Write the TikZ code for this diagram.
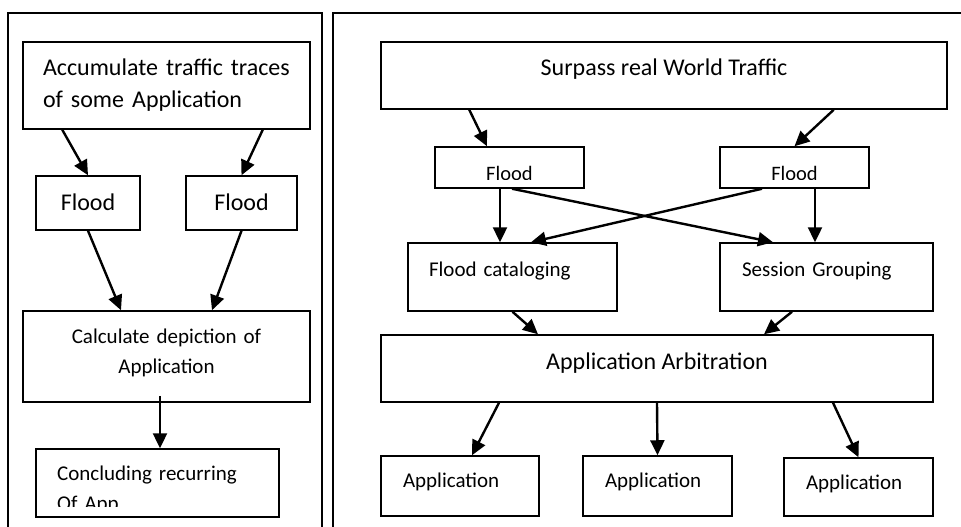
\documentclass[tikz,border=0pt]{standalone}
\usepackage{fontspec}
\setmainfont{Carlito}
\usetikzlibrary{arrows.meta}

\begin{document}
\begin{tikzpicture}[x=1pt,y=-1pt,>={Triangle[length=15pt,width=14pt]},
    blk/.style={draw,rectangle,line width=1.5pt,inner ysep=0pt,text height=16pt},
    big/.style={font=\fontsize{24}{32}\selectfont},
    small/.style={font=\fontsize{21}{30}\selectfont},
    tiny/.style={font=\fontsize{20.5}{25}\selectfont},
    arr/.style={->,line width=2.4pt}]
        % the page, the frames run on below it
        \clip (0,0) rectangle (961,527);
        \fill[white] (0,0) rectangle (961,527);

        % draw the two frames
        \draw[line width=1.5pt] (8,13) rectangle (322,540);
        \draw[line width=1.5pt] (333,13) rectangle (965,540);

        % boxes of the left frame
        \node[blk,big,minimum width=287pt,minimum height=87pt,inner xsep=20pt,
              text width=247pt,align=left,text depth=35pt] (acc) at (166.5,85.5)
              {Accumulate traffic traces\\of some Application};
        \node[blk,big,minimum width=104pt,minimum height=54pt,text depth=2pt] (floodA) at (88,203) {Flood};
        \node[blk,big,minimum width=111pt,minimum height=54pt,text depth=2pt] (floodB) at (241.5,203) {Flood};
        \node[blk,small,minimum width=287pt,minimum height=91pt,inner xsep=20pt,
              text width=247pt,align=center,text depth=43pt] (calc) at (166.5,356.5)
              {Calculate depiction of\\Application};

        % the last box, its second line is cut off
        \node[blk,minimum width=243pt,minimum height=68pt] (concl) at (157.5,483) {};
        \begin{scope}
            \clip (concl.north west) rectangle ([yshift=11pt]concl.south east);
            \node[small,inner sep=0pt,anchor=base west,text width=200pt,align=left]
                (conclText) at (57,480) {Concluding recurring\\Of App};
        \end{scope}

        % boxes of the right frame
        \node[blk,big,minimum width=566pt,minimum height=67pt,text depth=15pt] (surpass) at (664,75.5)
              {Surpass real World Traffic};

        \foreach \n/\x in {floodC/509.5, floodD/794.5} {
                % box first, then the cut off text
                \node[blk,minimum width=149pt,minimum height=41pt] (\n) at (\x,167.5) {};
                \begin{scope}
                    \clip (\n.north west) rectangle ([yshift=9.5pt]\n.south east);
                    \node[tiny,anchor=base] (\n Text) at (\x,180) {Flood};
                \end{scope}
        }

        \node[blk,small,minimum width=209pt,minimum height=68pt,inner xsep=21pt,
              text width=167pt,align=left,text depth=18pt] (catalog) at (512.5,277) {Flood cataloging};
        \node[blk,small,minimum width=213pt,minimum height=68pt,inner xsep=22pt,
              text width=169pt,align=left,text depth=18pt] (session) at (826.5,277) {Session Grouping};
        \node[blk,big,minimum width=552pt,minimum height=67pt,text depth=15pt] (arbit) at (657,368.5)
              {Application Arbitration};

        \foreach \n/\x/\y/\w/\h/\d in {
            app1/460/486/158/60/14,
            app2/657.5/486/149/60/14,
            app3/858.5/487/149/58/12}
                \node[blk,small,minimum width=\w pt,minimum height=\h pt,inner xsep=22pt,
                      text width=\w-44,align=left,text depth=\d pt] (\n) at (\x,\y) {Application};

        % connectors of the left frame
        \draw[arr] ([xshift=40pt]acc.south west) -- (floodA.north);
        \draw[arr] ([xshift=-48pt]acc.south east) -- (floodB.north);
        \draw[arr] (floodA.south) -- ([xshift=-45.5pt]calc.north);
        \draw[arr] (floodB.south) -- ([xshift=45.5pt]calc.north);
        \draw[arr] ([xshift=-6.5pt,yshift=7pt]calc.south) -- ([xshift=2.5pt]concl.north);

        % connectors of the right frame
        \draw[arr] ([xshift=89pt]surpass.south west) -- ([xshift=-22.5pt]floodC.north);
        \draw[arr] ([xshift=-114pt]surpass.south east) -- (floodD.north);
        \draw[arr] ([xshift=-9.5pt]floodC.south) -- ([xshift=-12.5pt]catalog.north);
        \draw[arr] ([xshift=2.5pt]floodC.south) -- ([xshift=-53.5pt]session.north);
        \draw[arr] ([xshift=-32.5pt]floodD.south) -- ([xshift=18.5pt]catalog.north);
        \draw[arr] ([xshift=20.5pt]floodD.south) -- ([xshift=-11.5pt]session.north);
        \draw[arr] (catalog.south) -- ([xshift=-119pt]arbit.north);
        \draw[arr] ([xshift=-34.5pt]session.south) -- ([xshift=107pt]arbit.north);
        \draw[arr] ([xshift=-158pt]arbit.south) -- ([xshift=12pt]app1.north);
        \draw[arr] (arbit.south) -- (app2.north);
        \draw[arr] ([xshift=176pt]arbit.south) -- (app3.north);
\end{tikzpicture}
\end{document}
